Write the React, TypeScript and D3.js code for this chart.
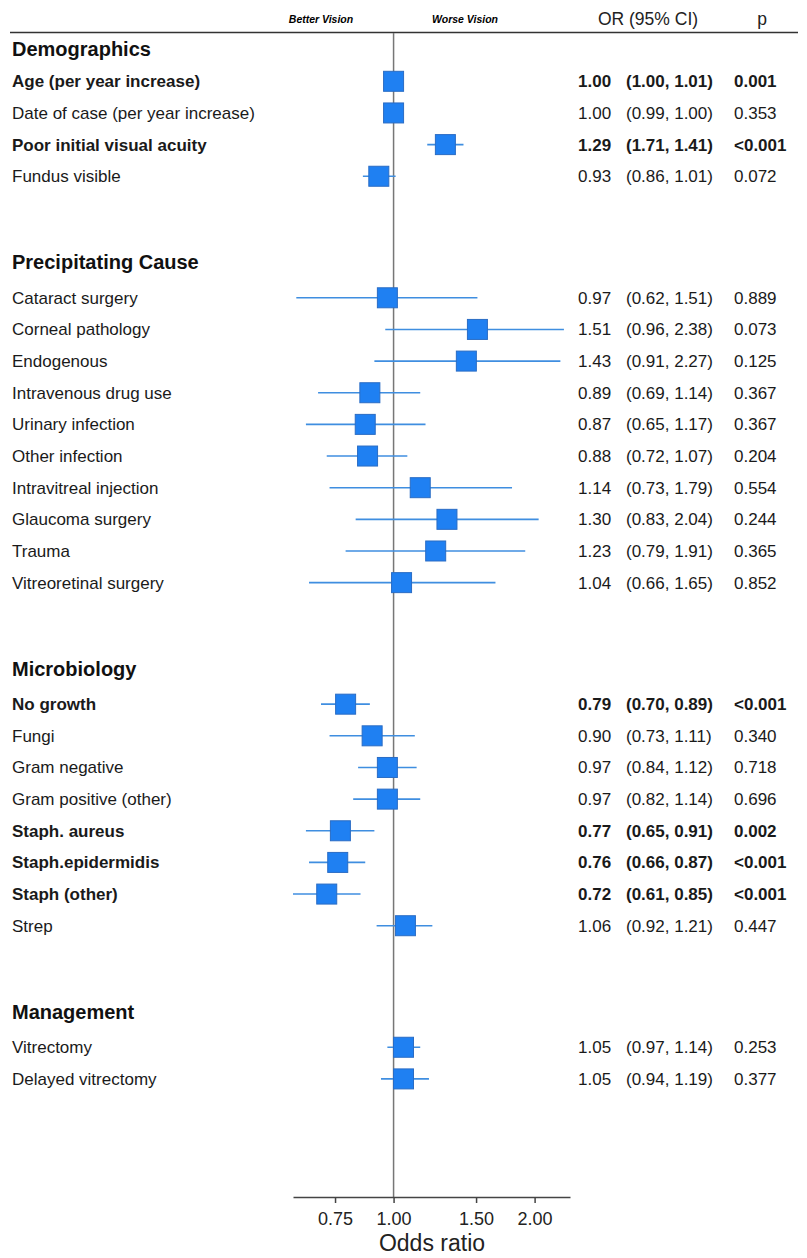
import React, { useEffect, useRef } from 'react'
import * as d3 from 'd3'

// section headings and the rows under each
const sections = ['Demographics', 'Precipitating Cause', 'Microbiology', 'Management']
const sectionSizes = [4, 10, 8, 2]

const labels = [
  'Age (per year increase)', 'Date of case (per year increase)', 'Poor initial visual acuity', 'Fundus visible',
  'Cataract surgery', 'Corneal pathology', 'Endogenous', 'Intravenous drug use', 'Urinary infection',
  'Other infection', 'Intravitreal injection', 'Glaucoma surgery', 'Trauma', 'Vitreoretinal surgery',
  'No growth', 'Fungi', 'Gram negative', 'Gram positive (other)', 'Staph. aureus', 'Staph.epidermidis',
  'Staph (other)', 'Strep',
  'Vitrectomy', 'Delayed vitrectomy'
]

const oddsRatio = [1.00, 1.00, 1.29, 0.93, 0.97, 1.51, 1.43, 0.89, 0.87, 0.88, 1.14, 1.30, 1.23, 1.04,
  0.79, 0.90, 0.97, 0.97, 0.77, 0.76, 0.72, 1.06, 1.05, 1.05]
// interval ends as drawn in the plot
const ciLower = [1.00, 0.99, 1.18, 0.86, 0.62, 0.96, 0.91, 0.69, 0.65, 0.72, 0.73, 0.83, 0.79, 0.66,
  0.70, 0.73, 0.84, 0.82, 0.65, 0.66, 0.61, 0.92, 0.97, 0.94]
const ciUpper = [1.01, 1.00, 1.41, 1.01, 1.51, 2.31, 2.27, 1.14, 1.17, 1.07, 1.79, 2.04, 1.91, 1.65,
  0.89, 1.11, 1.12, 1.14, 0.91, 0.87, 0.85, 1.21, 1.14, 1.19]
// interval text as printed in the table
const ciText = ['(1.00, 1.01)', '(0.99, 1.00)', '(1.71, 1.41)', '(0.86, 1.01)',
  '(0.62, 1.51)', '(0.96, 2.38)', '(0.91, 2.27)', '(0.69, 1.14)', '(0.65, 1.17)', '(0.72, 1.07)',
  '(0.73, 1.79)', '(0.83, 2.04)', '(0.79, 1.91)', '(0.66, 1.65)',
  '(0.70, 0.89)', '(0.73, 1.11)', '(0.84, 1.12)', '(0.82, 1.14)', '(0.65, 0.91)', '(0.66, 0.87)',
  '(0.61, 0.85)', '(0.92, 1.21)', '(0.97, 1.14)', '(0.94, 1.19)']
const pText = ['0.001', '0.353', '<0.001', '0.072', '0.889', '0.073', '0.125', '0.367', '0.367', '0.204',
  '0.554', '0.244', '0.365', '0.852', '<0.001', '0.340', '0.718', '0.696', '0.002', '<0.001', '<0.001',
  '0.447', '0.253', '0.377']
const significant = [true, false, true, false, false, false, false, false, false, false, false, false, false, false,
  true, false, false, false, true, true, true, false, false, false]

const axisTicks = [0.75, 1.0, 1.5, 2.0]

const FONT = '"Liberation Sans", Arial, Helvetica, sans-serif'

function ForestPlot() {
  const ref = useRef<SVGSVGElement>(null)

  useEffect(() => {
    document.body.style.margin = '0'
    const svg = d3.select(ref.current)
    svg.selectAll('*').remove()

    const width = 807, height = 1258
    const rowStart = 81.3, rowStep = 31.65, sectionGap = 2.84
    const axisY = 1197

    const x = d3.scaleLog().domain([0.61, 2.38]).range([293, 570])

    // row positions: slot counter with extra room between sections
    const rowY: number[] = []
    const headerY: number[] = []
    let slot = 0
    sectionSizes.forEach((n, s) => {
      if (s > 0) slot += sectionGap
      headerY.push(rowStart + slot * rowStep - (s === 0 ? 25 : 28.4))
      for (let i = 0; i < n; i++) { rowY.push(rowStart + slot * rowStep); slot++ }
    })

    svg.attr('width', width).attr('height', height).style('font-family', FONT)

    // top rule and column headings
    svg.append('line').attr('x1', 10).attr('x2', 798).attr('y1', 32.5).attr('y2', 32.5)
      .attr('stroke', '#333').attr('stroke-width', 1.5)
    svg.append('text').attr('x', 321).attr('y', 23).attr('text-anchor', 'middle')
      .attr('font-size', 10.5).attr('font-weight', 'bold').attr('font-style', 'italic').text('Better Vision')
    svg.append('text').attr('x', 465).attr('y', 23).attr('text-anchor', 'middle')
      .attr('font-size', 10.5).attr('font-weight', 'bold').attr('font-style', 'italic').text('Worse Vision')
    svg.append('text').attr('x', 648).attr('y', 25).attr('text-anchor', 'middle')
      .attr('font-size', 17.5).attr('fill', '#222').text('OR (95% CI)')
    svg.append('text').attr('x', 762).attr('y', 25).attr('text-anchor', 'middle')
      .attr('font-size', 17.5).attr('fill', '#222').text('p')

    // line of no effect
    svg.append('line').attr('x1', x(1)).attr('x2', x(1)).attr('y1', 33).attr('y2', axisY)
      .attr('stroke', '#777').attr('stroke-width', 1.5)

    // section headings
    svg.selectAll('text.section').data(sections).enter().append('text')
      .attr('class', 'section').attr('x', 12).attr('y', (d, i) => headerY[i])
      .attr('font-size', 20).attr('font-weight', 'bold').attr('fill', '#111').text(d => d)

    const rows = svg.selectAll('g.row').data(labels).enter().append('g')
      .attr('class', 'row').attr('transform', (d, i) => 'translate(0,' + rowY[i] + ')')

    rows.append('text').attr('x', 12).attr('y', 6).attr('font-size', 17)
      .attr('font-weight', (d, i) => significant[i] ? 'bold' : 'normal').attr('fill', '#1a1a1a').text(d => d)

    rows.append('line').attr('x1', (d, i) => x(ciLower[i])).attr('x2', (d, i) => x(ciUpper[i]))
      .attr('y1', 0).attr('y2', 0).attr('stroke', '#3f8ee0').attr('stroke-width', 1.6)

    rows.append('rect').attr('x', (d, i) => x(oddsRatio[i]) - 10).attr('y', -10)
      .attr('width', 20).attr('height', 20).attr('fill', '#1f80f2')
      .attr('stroke', '#2a6cc4').attr('stroke-width', 1)

    rows.append('text').attr('x', 578).attr('y', 6).attr('font-size', 17)
      .attr('font-weight', (d, i) => significant[i] ? 'bold' : 'normal').attr('fill', '#1a1a1a')
      .text((d, i) => d3.format('.2f')(oddsRatio[i]))
    rows.append('text').attr('x', 626).attr('y', 6).attr('font-size', 17)
      .attr('font-weight', (d, i) => significant[i] ? 'bold' : 'normal').attr('fill', '#1a1a1a')
      .text((d, i) => ciText[i])
    rows.append('text').attr('x', 734).attr('y', 6).attr('font-size', 17)
      .attr('font-weight', (d, i) => significant[i] ? 'bold' : 'normal').attr('fill', '#1a1a1a')
      .text((d, i) => pText[i])

    // x axis
    const xAxis = d3.axisBottom(x).tickValues(axisTicks).tickFormat(d3.format('.2f')).tickSize(6).tickSizeOuter(0)
    const g = svg.append('g').attr('transform', 'translate(0,' + axisY + ')').call(xAxis)
    g.select('.domain').attr('stroke', '#444').attr('stroke-width', 1.5)
    g.selectAll('.tick line').attr('stroke', '#444').attr('stroke-width', 1.5)
    g.selectAll('.tick text').attr('font-size', 18).attr('font-family', FONT).attr('fill', '#222').attr('dy', '1.05em')

    svg.append('text').attr('x', 432).attr('y', 1251).attr('text-anchor', 'middle')
      .attr('font-size', 23).attr('fill', '#222').text('Odds ratio')
  }, [])

  return <svg ref={ref} style={{ display: 'block' }} />
}

export default function App() {
  return <ForestPlot />
}
